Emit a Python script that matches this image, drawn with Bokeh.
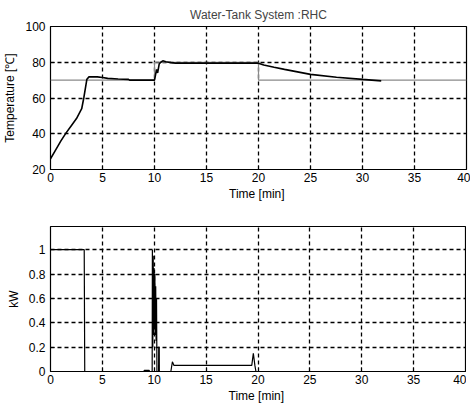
from bokeh.plotting import figure
from bokeh.layouts import column
from bokeh.models import FixedTicker, Range1d
from bokeh.embed import file_html
from bokeh.resources import INLINE

# ---- data ----
temp_t = [0, 0.5, 1, 1.5, 2, 2.5, 3, 3.2, 3.5, 3.7, 4.5, 5, 5.5, 6.5, 7.5,
          7.6, 10, 10.1, 10.2, 10.3, 10.45, 10.6, 10.8, 11.1, 11.6, 12, 20,
          20.5, 21.5, 22.5, 25, 27.5, 30, 31.8]
temp_v = [26, 31, 36, 40.5, 44.5, 48.5, 54, 60, 70.5, 71.8, 71.8, 71.5, 71, 70.6, 70.4,
          70, 70, 73, 76, 74, 79, 80, 80.8, 80.3, 79.8, 79.5, 79.5,
          78.5, 77.2, 76, 73.2, 71.6, 70.4, 69.6]
sp_t = [0, 10, 10, 20, 20, 40]
sp_v = [70, 70, 80, 80, 70, 70]

pw_t = [0, 3.25, 3.3, 9.0, 9.05, 9.5, 9.55, 9.8, 9.82, 9.86, 9.9, 9.94, 9.98, 10.02,
        10.06, 10.1, 10.14, 10.18, 10.22, 10.26, 10.42, 10.43, 10.48, 10.49, 11.6,
        11.75, 11.9, 19.4, 19.55, 19.7, 19.8, 40]
pw_v = [1, 1, 0, 0, 0.01, 0.01, 0, 0, 1.0, 0.2, 0.95, 0.3, 0.85, 0.35,
        0.8, 0.3, 0.7, 0.25, 0.6, 0, 0, 0.2, 0.2, 0, 0,
        0.08, 0.05, 0.05, 0.15, 0.05, 0, 0]

x_ticks = [0, 5, 10, 15, 20, 25, 30, 35, 40]
temp_ticks = [20, 40, 60, 80, 100]
pw_ticks = [0, 0.2, 0.4, 0.6, 0.8, 1.0]

FONT = "Liberation Sans"


def style(p):
    p.outline_line_color = "black"
    p.outline_line_width = 1.2
    for ax in (p.xaxis, p.yaxis):
        ax.axis_line_color = None
        ax.major_tick_in = 4
        ax.major_tick_out = 0
        ax.minor_tick_line_color = None
        ax.major_tick_line_color = "black"
        ax.major_label_text_font = FONT
        ax.major_label_text_font_size = "12px"
        ax.major_label_text_color = "black"
        ax.axis_label_text_font = FONT
        ax.axis_label_text_font_size = "12px"
        ax.axis_label_text_font_style = "normal"
        ax.axis_label_text_color = "black"
    p.xaxis.major_label_standoff = 3
    p.xaxis.axis_label_standoff = 2
    p.grid.grid_line_color = "black"
    p.grid.grid_line_dash = "4 3"
    p.grid.grid_line_width = 1.3
    p.background_fill_color = "white"
    p.border_fill_color = "white"


p1 = figure(frame_width=416, frame_height=143, output_backend="svg", toolbar_location=None,
            x_range=Range1d(0, 40), y_range=Range1d(20, 100),
            min_border_left=41, min_border_right=4, min_border_top=26, min_border_bottom=31,
            title="Water-Tank System :RHC")
p1.title.align = "center"
p1.title.text_font = FONT
p1.title.text_font_size = "12px"
p1.title.text_font_style = "normal"
p1.xaxis.ticker = FixedTicker(ticks=x_ticks)
p1.yaxis.ticker = FixedTicker(ticks=temp_ticks)
p1.xaxis.axis_label = "Time  [min]"
p1.yaxis.axis_label = "Temperature [℃]"
style(p1)
p1.line(sp_t, sp_v, line_color="#8a8a8a", line_width=1.2)
p1.line(temp_t, temp_v, line_color="black", line_width=1.6)

p2 = figure(frame_width=415, frame_height=145, output_backend="svg", toolbar_location=None,
            x_range=Range1d(0, 40), y_range=Range1d(0, 1.19),
            min_border_left=43, min_border_right=4, min_border_top=23, min_border_bottom=27)
p2.xaxis.ticker = FixedTicker(ticks=x_ticks)
p2.yaxis.ticker = FixedTicker(ticks=pw_ticks)
p2.yaxis.major_label_overrides = {0: "0", 0.2: "0.2", 0.4: "0.4", 0.6: "0.6", 0.8: "0.8", 1: "1"}
p2.xaxis.axis_label = "Time  [min]"
p2.yaxis.axis_label = "kW"
style(p2)
p2.line(pw_t, pw_v, line_color="black", line_width=1.2)

layout = column(p1, p2, spacing=0)
open("out.html", "w").write(file_html(layout, INLINE))
